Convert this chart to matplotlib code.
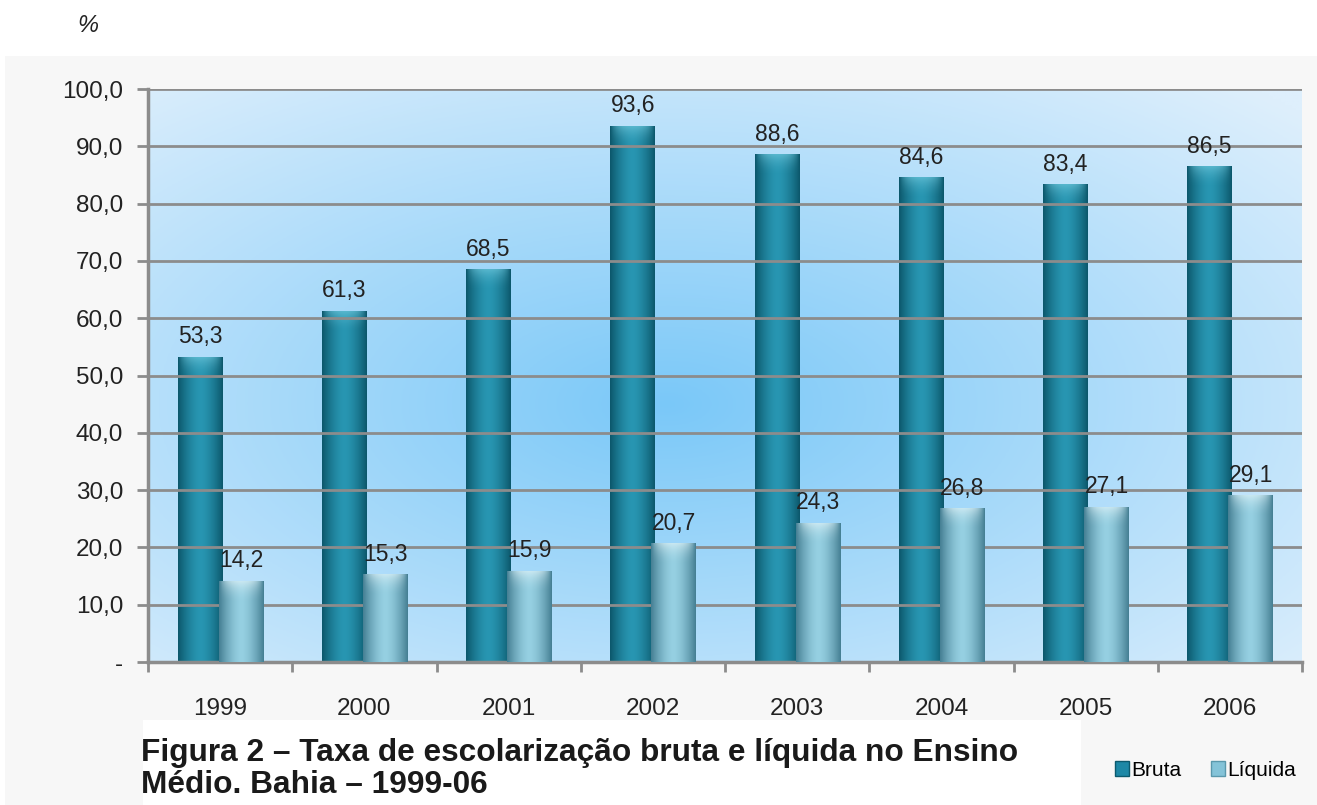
import matplotlib.pyplot as plt
import numpy as np
from matplotlib.patches import Rectangle, Patch

plt.rcParams['font.family'] = ['Liberation Sans', 'DejaVu Sans']

# Data
anos = ['1999', '2000', '2001', '2002', '2003', '2004', '2005', '2006']
bruta = [53.3, 61.3, 68.5, 93.6, 88.6, 84.6, 83.4, 86.5]
liquida = [14.2, 15.3, 15.9, 20.7, 24.3, 26.8, 27.1, 29.1]

fig = plt.figure(figsize=(13.17, 8.05), dpi=100)
fig.patch.set_facecolor('white')

# grey panel behind the chart
fig.patches.append(Rectangle((5 / 1317, 0), 1, (805 - 56) / 805, transform=fig.transFigure,
                             facecolor='#f7f7f7', edgecolor='none', zorder=-10))

ax = fig.add_axes([148 / 1317, 1 - 662 / 805, (1302 - 148) / 1317, (662 - 89) / 805])
ax.set_facecolor('none')

# radial blue background of the plot area
gy, gx = np.mgrid[0:1:200j, 0:1:300j]
r = np.sqrt(((gx - 0.45) / 0.75) ** 2 + ((gy - 0.45) / 0.75) ** 2)
r = np.clip(r, 0, 1)[..., None]
c_in = np.array([122, 200, 248]) / 255
c_out = np.array([222, 239, 252]) / 255
bg = c_in * (1 - r) + c_out * r
ax.imshow(bg, extent=[-0.5, len(anos) - 0.5, 0, 100], aspect='auto', zorder=0, origin='lower')

x = np.arange(len(anos))
w = 0.31
b1 = ax.bar(x - 0.14, bruta, width=w, color='#1d88a6', zorder=2)
b2 = ax.bar(x + 0.145, liquida, width=w, color='#84c3d8', zorder=3)


def shade(bars, mid, edge, top):
    t = np.linspace(-1, 1, 60)
    prof = np.abs(t) ** 1.6
    mid = np.array(mid) / 255
    edge = np.array(edge) / 255
    row = mid * (1 - prof[:, None]) + edge * prof[:, None]
    img = np.tile(row[None, :, :], (2, 1, 1))
    # soft light cap: alpha fades in toward the top
    ca = np.zeros((40, 60, 4))
    ca[..., :3] = np.array(top) / 255
    vert = np.linspace(0, 1, 40) ** 2
    ca[..., 3] = 0.6 * vert[:, None] * (1 - prof[None, :] ** 2)
    for p in bars:
        x0, h, wd = p.get_x(), p.get_height(), p.get_width()
        im = ax.imshow(img, extent=[x0, x0 + wd, 0, h], aspect='auto',
                       zorder=p.get_zorder() + 0.1, origin='lower')
        im.set_clip_path(p)
        im2 = ax.imshow(ca, extent=[x0, x0 + wd, h - 4, h], aspect='auto',
                        zorder=p.get_zorder() + 0.2, origin='lower')
        im2.set_clip_path(p)


shade(b1, (40, 150, 178), (12, 88, 108), (120, 205, 225))
shade(b2, (150, 208, 226), (70, 128, 148), (235, 248, 252))

for xi, v in zip(x, bruta):
    ax.text(xi - 0.14, v + 1.5, f'{v:.1f}'.replace('.', ','), ha='center', va='bottom',
            fontsize=16.5, color='#222222', zorder=5)
for xi, v in zip(x, liquida):
    ax.text(xi + 0.145, v + 1.5, f'{v:.1f}'.replace('.', ','), ha='center', va='bottom',
            fontsize=16.5, color='#222222', zorder=5)

ax.set_xlim(-0.5, len(anos) - 0.5)
ax.set_ylim(0, 100)
ax.set_yticks(np.arange(0, 101, 10))
ax.set_yticklabels(['-'] + [f'{v:.1f}'.replace('.', ',') for v in np.arange(10, 101, 10)])
ax.set_xticks(x)
ax.set_xticklabels(anos)
ax.set_xticks(np.arange(-0.5, len(anos), 1), minor=True)
ax.tick_params(axis='x', which='major', length=0, labelsize=17.5, pad=26, labelcolor='#222222')
ax.tick_params(axis='x', which='minor', length=7, width=2, color='#8c8c8c')
ax.tick_params(axis='y', length=8, width=2, color='#8c8c8c', labelsize=17.5, pad=10,
               labelcolor='#222222')
ax.yaxis.grid(True, color='#8c8c8c', linewidth=2, zorder=1)
ax.set_axisbelow(False)
for g in ax.get_ygridlines():
    g.set_zorder(1)
for s in ['top', 'right']:
    ax.spines[s].set_visible(False)
for s in ['left', 'bottom']:
    ax.spines[s].set_color('#8c8c8c')
    ax.spines[s].set_linewidth(2.5)

fig.text(77 / 1317, 1 - 26 / 805, '%', fontsize=17, style='italic', color='#222222',
         va='center')

# caption on white box
fig.patches.append(Rectangle((143 / 1317, 0), (1081 - 143) / 1317, (805 - 720) / 805,
                             transform=fig.transFigure, facecolor='white', edgecolor='none',
                             zorder=-5))
fig.text(141 / 1317, 1 - 769 / 805,
         'Figura 2 – Taxa de escolarização bruta e líquida no Ensino\nMédio. Bahia – 1999-06',
         fontsize=22.8, fontweight='bold', color='#1a1a1a', va='center', ha='left',
         linespacing=1.12)

handles = [Patch(facecolor='#1d88a6', edgecolor='#0c5a6e'),
           Patch(facecolor='#84c3d8', edgecolor='#5a98ac')]
fig.legend(handles, ['Bruta', 'Líquida'], loc='center left',
           bbox_to_anchor=(1096 / 1317, 1 - 770 / 805), ncol=2, frameon=False,
           fontsize=15, handlelength=0.7, handleheight=0.7, handletextpad=0.1,
           columnspacing=1.4)

fig.savefig('out.png', dpi=100)
